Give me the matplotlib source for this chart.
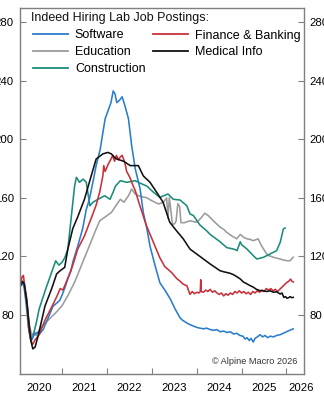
import matplotlib
matplotlib.use("Agg")
import matplotlib.pyplot as plt

plt.rcParams['font.family'] = ['Liberation Sans', 'DejaVu Sans']

# ---- data (decimal years, index Feb 2020 = 100) ----
sw_t = [2020.08, 2020.12, 2020.17, 2020.21, 2020.26, 2020.30, 2020.33, 2020.37, 2020.43, 2020.50,
        2020.58, 2020.65, 2020.72, 2020.80, 2020.88, 2020.95, 2021.02, 2021.08, 2021.13, 2021.20,
        2021.24, 2021.35, 2021.46, 2021.54, 2021.61, 2021.69, 2021.76, 2021.85, 2021.96, 2022.02,
        2022.09, 2022.14, 2022.18, 2022.22, 2022.29, 2022.34, 2022.40, 2022.48, 2022.55, 2022.63,
        2022.74, 2022.81, 2022.89, 2022.96, 2023.07, 2023.18, 2023.29, 2023.41, 2023.52, 2023.63,
        2023.68, 2023.73, 2023.78, 2023.84, 2023.92, 2024.00, 2024.07, 2024.15, 2024.22, 2024.30,
        2024.38, 2024.45, 2024.52, 2024.60, 2024.67, 2024.75, 2024.82, 2024.89, 2024.96, 2025.03,
        2025.08, 2025.12, 2025.17, 2025.21, 2025.26, 2025.30, 2025.35, 2025.41, 2025.47, 2025.52,
        2025.58, 2025.64, 2025.71, 2025.78, 2025.86, 2025.93, 2026.00, 2026.07, 2026.15]
sw_v = [100, 102, 98, 88, 75, 66, 63, 66, 68, 67,
        70, 75, 80, 86, 88, 90, 95, 100, 105, 110,
        116, 127, 139, 152, 159, 171, 182, 193, 214, 219,
        225, 233, 231, 225, 227, 229, 223, 214, 196, 180,
        166, 150, 139, 127, 114, 102, 97, 91, 84, 78,
        76.5, 75.5, 74.5, 73.5, 72.5, 71.5, 71, 70.5, 71, 70,
        69.5, 70, 68.5, 69, 68, 68.5, 67, 67.5, 66, 65.5,
        63.5, 64.5, 62.5, 64, 61.5, 64, 65, 66.5, 65, 66,
        64.5, 65.5, 65, 66, 66.5, 67.5, 68.5, 69.5, 70.5]

fin_t = [2020.08, 2020.11, 2020.14, 2020.16, 2020.22, 2020.26, 2020.31, 2020.35, 2020.40, 2020.48,
         2020.63, 2020.78, 2020.89, 2020.96, 2021.02, 2021.13, 2021.24, 2021.35, 2021.50, 2021.65,
         2021.76, 2021.84, 2021.91, 2021.93, 2021.96, 2022.03, 2022.10, 2022.13, 2022.17, 2022.21,
         2022.26, 2022.30, 2022.34, 2022.40, 2022.44, 2022.51, 2022.56, 2022.63, 2022.73, 2022.88,
         2023.03, 2023.18, 2023.29, 2023.44, 2023.55, 2023.63, 2023.70, 2023.78, 2023.85, 2023.90,
         2023.95, 2024.00, 2024.05, 2024.08, 2024.09, 2024.10, 2024.15, 2024.20, 2024.25, 2024.30,
         2024.35, 2024.40, 2024.45, 2024.50, 2024.55, 2024.60, 2024.65, 2024.70, 2024.75, 2024.80,
         2024.85, 2024.90, 2024.95, 2025.00, 2025.05, 2025.10, 2025.15, 2025.20, 2025.25, 2025.30,
         2025.35, 2025.40, 2025.45, 2025.50, 2025.55, 2025.60, 2025.65, 2025.70, 2025.75, 2025.80,
         2025.85, 2025.90, 2025.95, 2026.00, 2026.05, 2026.09, 2026.12, 2026.15]
fin_v = [102, 106, 107, 102, 90, 70, 62, 60, 63, 66,
         77, 86, 93, 98, 97, 105, 114, 125, 134, 146,
         155, 164, 175, 182, 178, 183, 187, 189, 185, 189,
         186, 188, 189, 184, 178, 174, 170, 165, 155, 141,
         130, 119, 113, 109, 105, 103, 101, 100, 94, 96,
         94.5, 95.5, 95, 96, 104, 96, 95.5, 97, 96, 97.5,
         95.5, 96.5, 95, 94, 95, 93, 94.5, 93.5, 95, 94,
         96, 95, 96.5, 95, 96, 94.5, 95.5, 94, 96, 95,
         96.5, 95.5, 97, 96, 98, 97, 98, 96.5, 97.5, 96,
         97.5, 99, 100.5, 102, 103, 104.5, 103, 102.5]

edu_t = [2020.08, 2020.12, 2020.16, 2020.22, 2020.28, 2020.33, 2020.38, 2020.42, 2020.50, 2020.57,
         2020.72, 2020.87, 2021.00, 2021.13, 2021.28, 2021.43, 2021.58, 2021.73, 2021.84, 2021.95,
         2022.10, 2022.20, 2022.30, 2022.38, 2022.48, 2022.55, 2022.63, 2022.74, 2022.89, 2023.00,
         2023.15, 2023.26, 2023.33, 2023.36, 2023.39, 2023.43, 2023.46, 2023.50, 2023.54, 2023.58,
         2023.62, 2023.65, 2023.72, 2023.85, 2024.00, 2024.11, 2024.18, 2024.26, 2024.37, 2024.52,
         2024.60, 2024.67, 2024.78, 2024.89, 2024.97, 2025.05, 2025.12, 2025.20, 2025.26, 2025.37,
         2025.43, 2025.49, 2025.55, 2025.60, 2025.66, 2025.71, 2025.78, 2025.86, 2025.93, 2026.00,
         2026.08, 2026.15]
edu_v = [101, 102, 100, 88, 72, 66, 68, 66, 70, 72.7,
         77.3, 81.8, 86.3, 93.2, 102.3, 113.7, 125, 136.4, 144.3, 146.7,
         150, 154.6, 159, 157, 161.4, 166, 162.6, 161, 160, 158,
         155.8, 157, 160, 146, 160, 150, 142, 142, 144, 156,
         154, 143, 143, 144.3, 143.3, 146.7, 149.5, 147.8, 144.3, 140,
         138.5, 136.4, 134, 132, 135, 133, 132, 131.5, 130.7, 132,
         128, 125, 122, 120.5, 120, 119.4, 118.8, 118.2, 117.5, 117.1,
         117, 119.4]

med_t = [2020.08, 2020.12, 2020.16, 2020.22, 2020.27, 2020.31, 2020.35, 2020.40, 2020.47, 2020.62,
         2020.77, 2020.88, 2020.95, 2021.06, 2021.13, 2021.24, 2021.35, 2021.50, 2021.65, 2021.76,
         2021.91, 2022.02, 2022.10, 2022.17, 2022.22, 2022.37, 2022.52, 2022.70, 2022.81, 2022.96,
         2023.11, 2023.25, 2023.40, 2023.55, 2023.70, 2023.85, 2024.00, 2024.15, 2024.30, 2024.52,
         2024.60, 2024.67, 2024.74, 2024.82, 2024.90, 2024.97, 2025.04, 2025.12, 2025.19, 2025.26,
         2025.33, 2025.41, 2025.48, 2025.56, 2025.63, 2025.71, 2025.78, 2025.86, 2025.90, 2025.94,
         2025.98, 2026.01, 2026.05, 2026.08, 2026.12, 2026.15]
med_v = [100.5, 103, 101, 88, 72, 62, 56.8, 58, 66, 86,
         98, 108, 110, 112.5, 125, 139, 147, 159, 175, 186.5,
         190, 191, 190, 187.6, 186.5, 185, 182, 182, 175, 170.6,
         163.7, 157, 143.3, 137.5, 132, 125, 121.6, 118.2, 114.8, 110.2,
         109.5, 109, 108.5, 107.5, 106, 104.6, 102.5, 101.2, 100, 99,
         97.5, 96.6, 96.5, 96, 96.5, 95.5, 95.8, 94.3, 95, 92,
         92.5, 91.4, 91.8, 92.5, 91.8, 92]

con_t = [2020.08, 2020.11, 2020.15, 2020.20, 2020.25, 2020.30, 2020.35, 2020.43, 2020.49, 2020.64,
         2020.79, 2020.86, 2020.93, 2021.00, 2021.06, 2021.13, 2021.21, 2021.28, 2021.32, 2021.39,
         2021.47, 2021.54, 2021.62, 2021.69, 2021.80, 2021.95, 2022.07, 2022.14, 2022.19, 2022.30,
         2022.44, 2022.63, 2022.74, 2022.89, 2023.03, 2023.18, 2023.36, 2023.48, 2023.63, 2023.78,
         2023.85, 2023.93, 2024.07, 2024.22, 2024.30, 2024.52, 2024.67, 2024.82, 2024.90, 2024.97,
         2025.00, 2025.12, 2025.26, 2025.34, 2025.49, 2025.63, 2025.78, 2025.86, 2025.93, 2025.97]
con_v = [100, 101.5, 100, 88, 72, 63, 65, 75, 84, 98,
         111, 117, 114, 116, 119, 125, 148, 168, 174, 170.6,
         172.8, 170.6, 154.6, 157, 159, 161.4, 159, 164, 168, 171.7,
         170.6, 171.7, 170, 168, 164, 160.3, 162.6, 159, 158.5, 154.6,
         149, 147.8, 141.5, 137.5, 135, 130, 126, 125, 124, 130,
         128, 125, 120.5, 118.2, 119.4, 121.6, 123.9, 129.6, 138.7, 139.4]

series_labels = ["Software", "Education", "Construction", "Finance & Banking", "Medical Info"]
series_colors = ["#2a7dcb", "#9b9b9b", "#1b8c7a", "#c8303a", "#111111"]

year_ticks = [2021, 2022, 2023, 2024, 2025, 2026]
year_label_pos = [2020.5, 2021.5, 2022.5, 2023.5, 2024.5, 2025.5, 2026.33]
year_labels = ["2020", "2021", "2022", "2023", "2024", "2025", "2026"]
y_ticks = [80, 120, 160, 200, 240, 280]

# ---- figure ----
W, H = 324, 400
fig = plt.figure(figsize=(W / 100, H / 100), dpi=100)
ax = fig.add_axes([19.5 / W, 1 - 373.5 / H, (304 - 19.5) / W, (373.5 - 7.5) / H])

data = {
    "Software": (sw_t, sw_v),
    "Education": (edu_t, edu_v),
    "Construction": (con_t, con_v),
    "Finance & Banking": (fin_t, fin_v),
    "Medical Info": (med_t, med_v),
}
draw_order = ["Education", "Construction", "Software", "Finance & Banking", "Medical Info"]
handles = {}
for name in draw_order:
    t, v = data[name]
    c = series_colors[series_labels.index(name)]
    h, = ax.plot(t, v, color=c, lw=1.15, label=name)
    handles[name] = h

ax.set_xlim(2020.053, 2026.39)
ax.set_ylim(40, 290)

ax.set_xticks(year_ticks)
ax.set_xticklabels([])
ax.set_xticks(year_label_pos, minor=True)
ax.set_xticklabels(year_labels, minor=True)
ax.tick_params(axis='x', which='major', direction='in', length=4, width=0.8, color='#808080')
ax.tick_params(axis='x', which='minor', length=0, pad=7, labelsize=8.2)

ax.set_yticks(y_ticks)
ax.set_yticklabels([str(v) for v in y_ticks])
ax.tick_params(axis='y', which='major', direction='in', length=4, width=0.8, color='#808080',
               left=True, right=True, labelleft=True, labelright=True, labelsize=8.2, pad=4)

for s in ax.spines.values():
    s.set_color('#7f7f7f')
    s.set_linewidth(1.0)

# legend
fig.text(31 / W, 1 - 12.5 / H, "Indeed Hiring Lab Job Postings:", fontsize=9, va='top', ha='left',
         color='#111111')
leg = fig.legend([handles[n] for n in series_labels], series_labels, ncol=2,
                 loc='upper left', bbox_to_anchor=(33 / W, 1 - 29.5 / H), frameon=False,
                 fontsize=9, handlelength=2.8, handletextpad=0.55, columnspacing=0.6,
                 labelspacing=0.38, borderpad=0, borderaxespad=0)
for line in leg.get_lines():
    line.set_linewidth(1.3)

fig.text(297 / W, 1 - 361.5 / H, "\u00a9 Alpine Macro 2026", fontsize=6.6, ha='right', va='center',
         color='#333333')

fig.savefig("out.png", dpi=100)
